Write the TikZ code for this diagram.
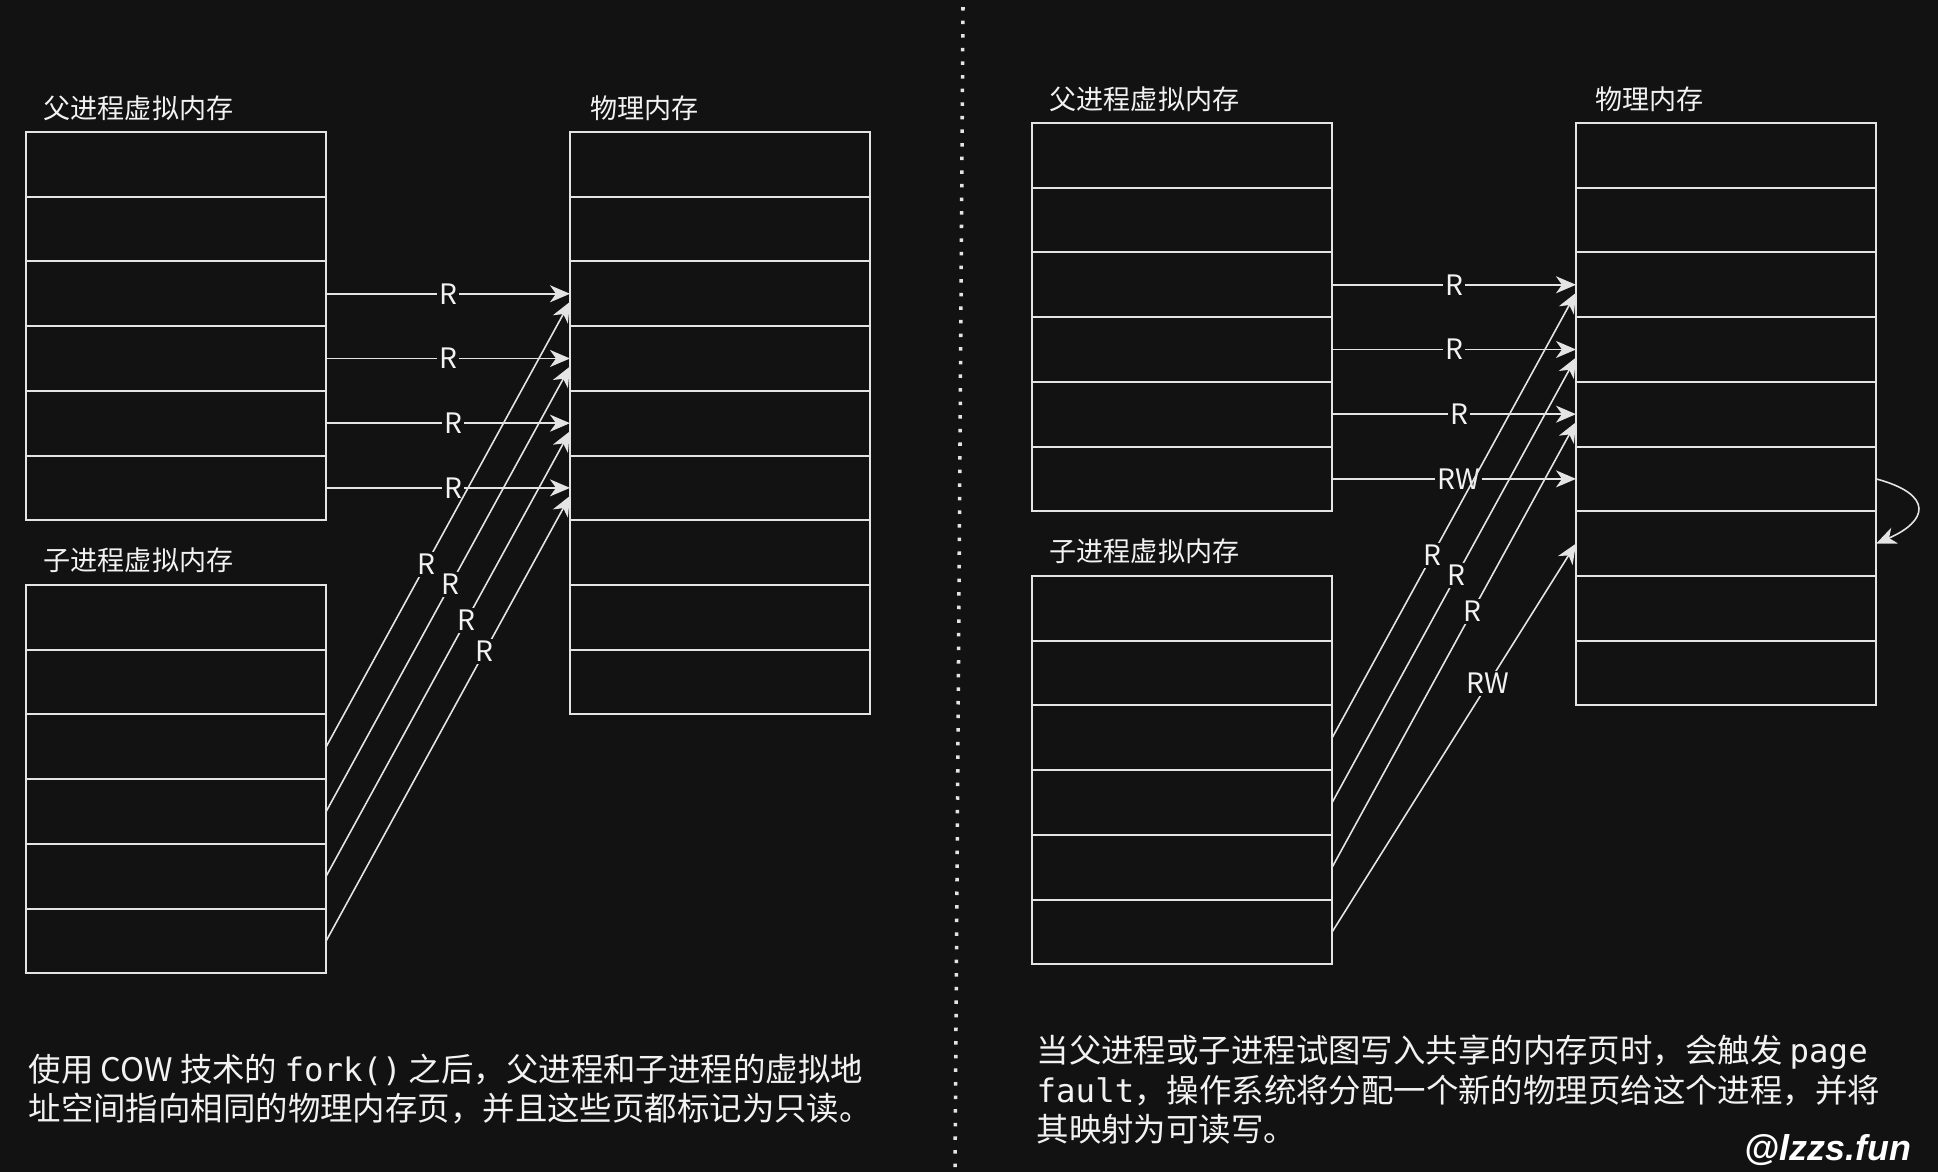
\documentclass[tikz,border=0pt]{standalone}
\usepackage{fontspec}
\setmainfont{Noto Sans CJK SC}
\setmonofont{DejaVu Sans Mono}
\newfontfamily\markfont{Liberation Sans}
\usetikzlibrary{arrows.meta}
\definecolor{bgcol}{HTML}{121212}
\definecolor{linecol}{HTML}{E4E4E4}
\definecolor{textcol}{HTML}{F2F2F2}

\tikzset{
  pagebox/.style={draw=linecol, line width=0.55pt, minimum width=3cm, minimum height=0.647cm,
    inner sep=0pt, outer sep=0pt, anchor=north west},
  memtitle/.style={text=textcol, inner sep=0pt, anchor=west, font=\fontsize{7.7}{9}\selectfont},
  map/.style={draw=linecol, line width=0.45pt, -{Stealth[length=2mm, width=1.7mm, inset=0.6mm]}},
  perm/.style={fill=bgcol, text=textcol, inner sep=0.6pt, font=\fontsize{8}{9}\selectfont},
  note/.style={text=textcol, inner sep=0pt, anchor=west, align=left, font=\fontsize{9.22}{11.2}\selectfont},
}

\begin{document}
\begin{tikzpicture}[x=0.01cm, y=-0.01cm]
    \fill[bgcol] (0,0) rectangle (1938,1172);
    \useasboundingbox (0,0) rectangle (1938,1172);

    % before the write
    \node[memtitle] (lpatitle) at (43,108) {父进程虚拟内存};
    \node[memtitle] (lphtitle) at (590,108) {物理内存};
    \node[memtitle] (lchtitle) at (43,560) {子进程虚拟内存};
    \foreach \i in {1,...,6} {
        \node[pagebox] (lpa\i) at (26,{132+64.7*(\i-1)}) {};
        \node[pagebox] (lch\i) at (26,{585+64.7*(\i-1)}) {};
    }
    \foreach \i in {1,...,9}
        \node[pagebox] (lph\i) at (570,{132+64.7*(\i-1)}) {};
    \foreach \i/\p in {3/0.5, 4/0.5, 5/0.52, 6/0.52}
        \draw[map] (lpa\i.east) -- (lph\i.west) node[perm, pos=\p] {R};
    \foreach \i/\p in {3/0.41, 4/0.51, 5/0.575, 6/0.65}
        \draw[map] (lch\i.east) -- ([yshift=-0.08cm]lph\i.west) node[perm, pos=\p] {R};

    \draw[linecol, line width=1pt, dash pattern=on 0.035cm off 0.101cm] (963,7) -- (955,1172);

    % after the write
    \node[memtitle] (rpatitle) at (1049,99) {父进程虚拟内存};
    \node[memtitle] (rphtitle) at (1595,99) {物理内存};
    \node[memtitle] (rchtitle) at (1049,551) {子进程虚拟内存};
    \foreach \i in {1,...,6} {
        \node[pagebox] (rpa\i) at (1032,{123+64.7*(\i-1)}) {};
        \node[pagebox] (rch\i) at (1032,{576+64.7*(\i-1)}) {};
    }
    \foreach \i in {1,...,9}
        \node[pagebox] (rph\i) at (1576,{123+64.7*(\i-1)}) {};
    \foreach \i/\p/\t in {3/0.5/R, 4/0.5/R, 5/0.52/R, 6/0.52/RW}
        \draw[map] (rpa\i.east) -- (rph\i.west) node[perm, pos=\p] {\t};
    \foreach \i/\p in {3/0.41, 4/0.51, 5/0.575}
        \draw[map] (rch\i.east) -- ([yshift=-0.08cm]rph\i.west) node[perm, pos=\p] {R};
    \draw[map] (rch6.east) -- (rph7.west) node[perm, pos=0.64] {RW};
    \draw[map] (rph6.east) .. controls +(59,16) and +(51,-22) .. (rph7.east);

    \node[note] (leftnote) at (28,1089)
        {使用 COW 技术的 \texttt{fork()} 之后，父进程和子进程的虚拟地\\
         址空间指向相同的物理内存页，并且这些页都标记为只读。};
    \node[note] (rightnote) at (1036,1090)
        {当父进程或子进程试图写入共享的内存页时，会触发 \texttt{page}\\
         \texttt{fault}，操作系统将分配一个新的物理页给这个进程，并将\\
         其映射为可读写。};
    \node[anchor=east, inner sep=0pt, text=white, font=\markfont\bfseries\itshape\fontsize{10.2}{12}\selectfont]
        (mark) at (1912,1150) {@lzzs.fun};
\end{tikzpicture}
\end{document}
